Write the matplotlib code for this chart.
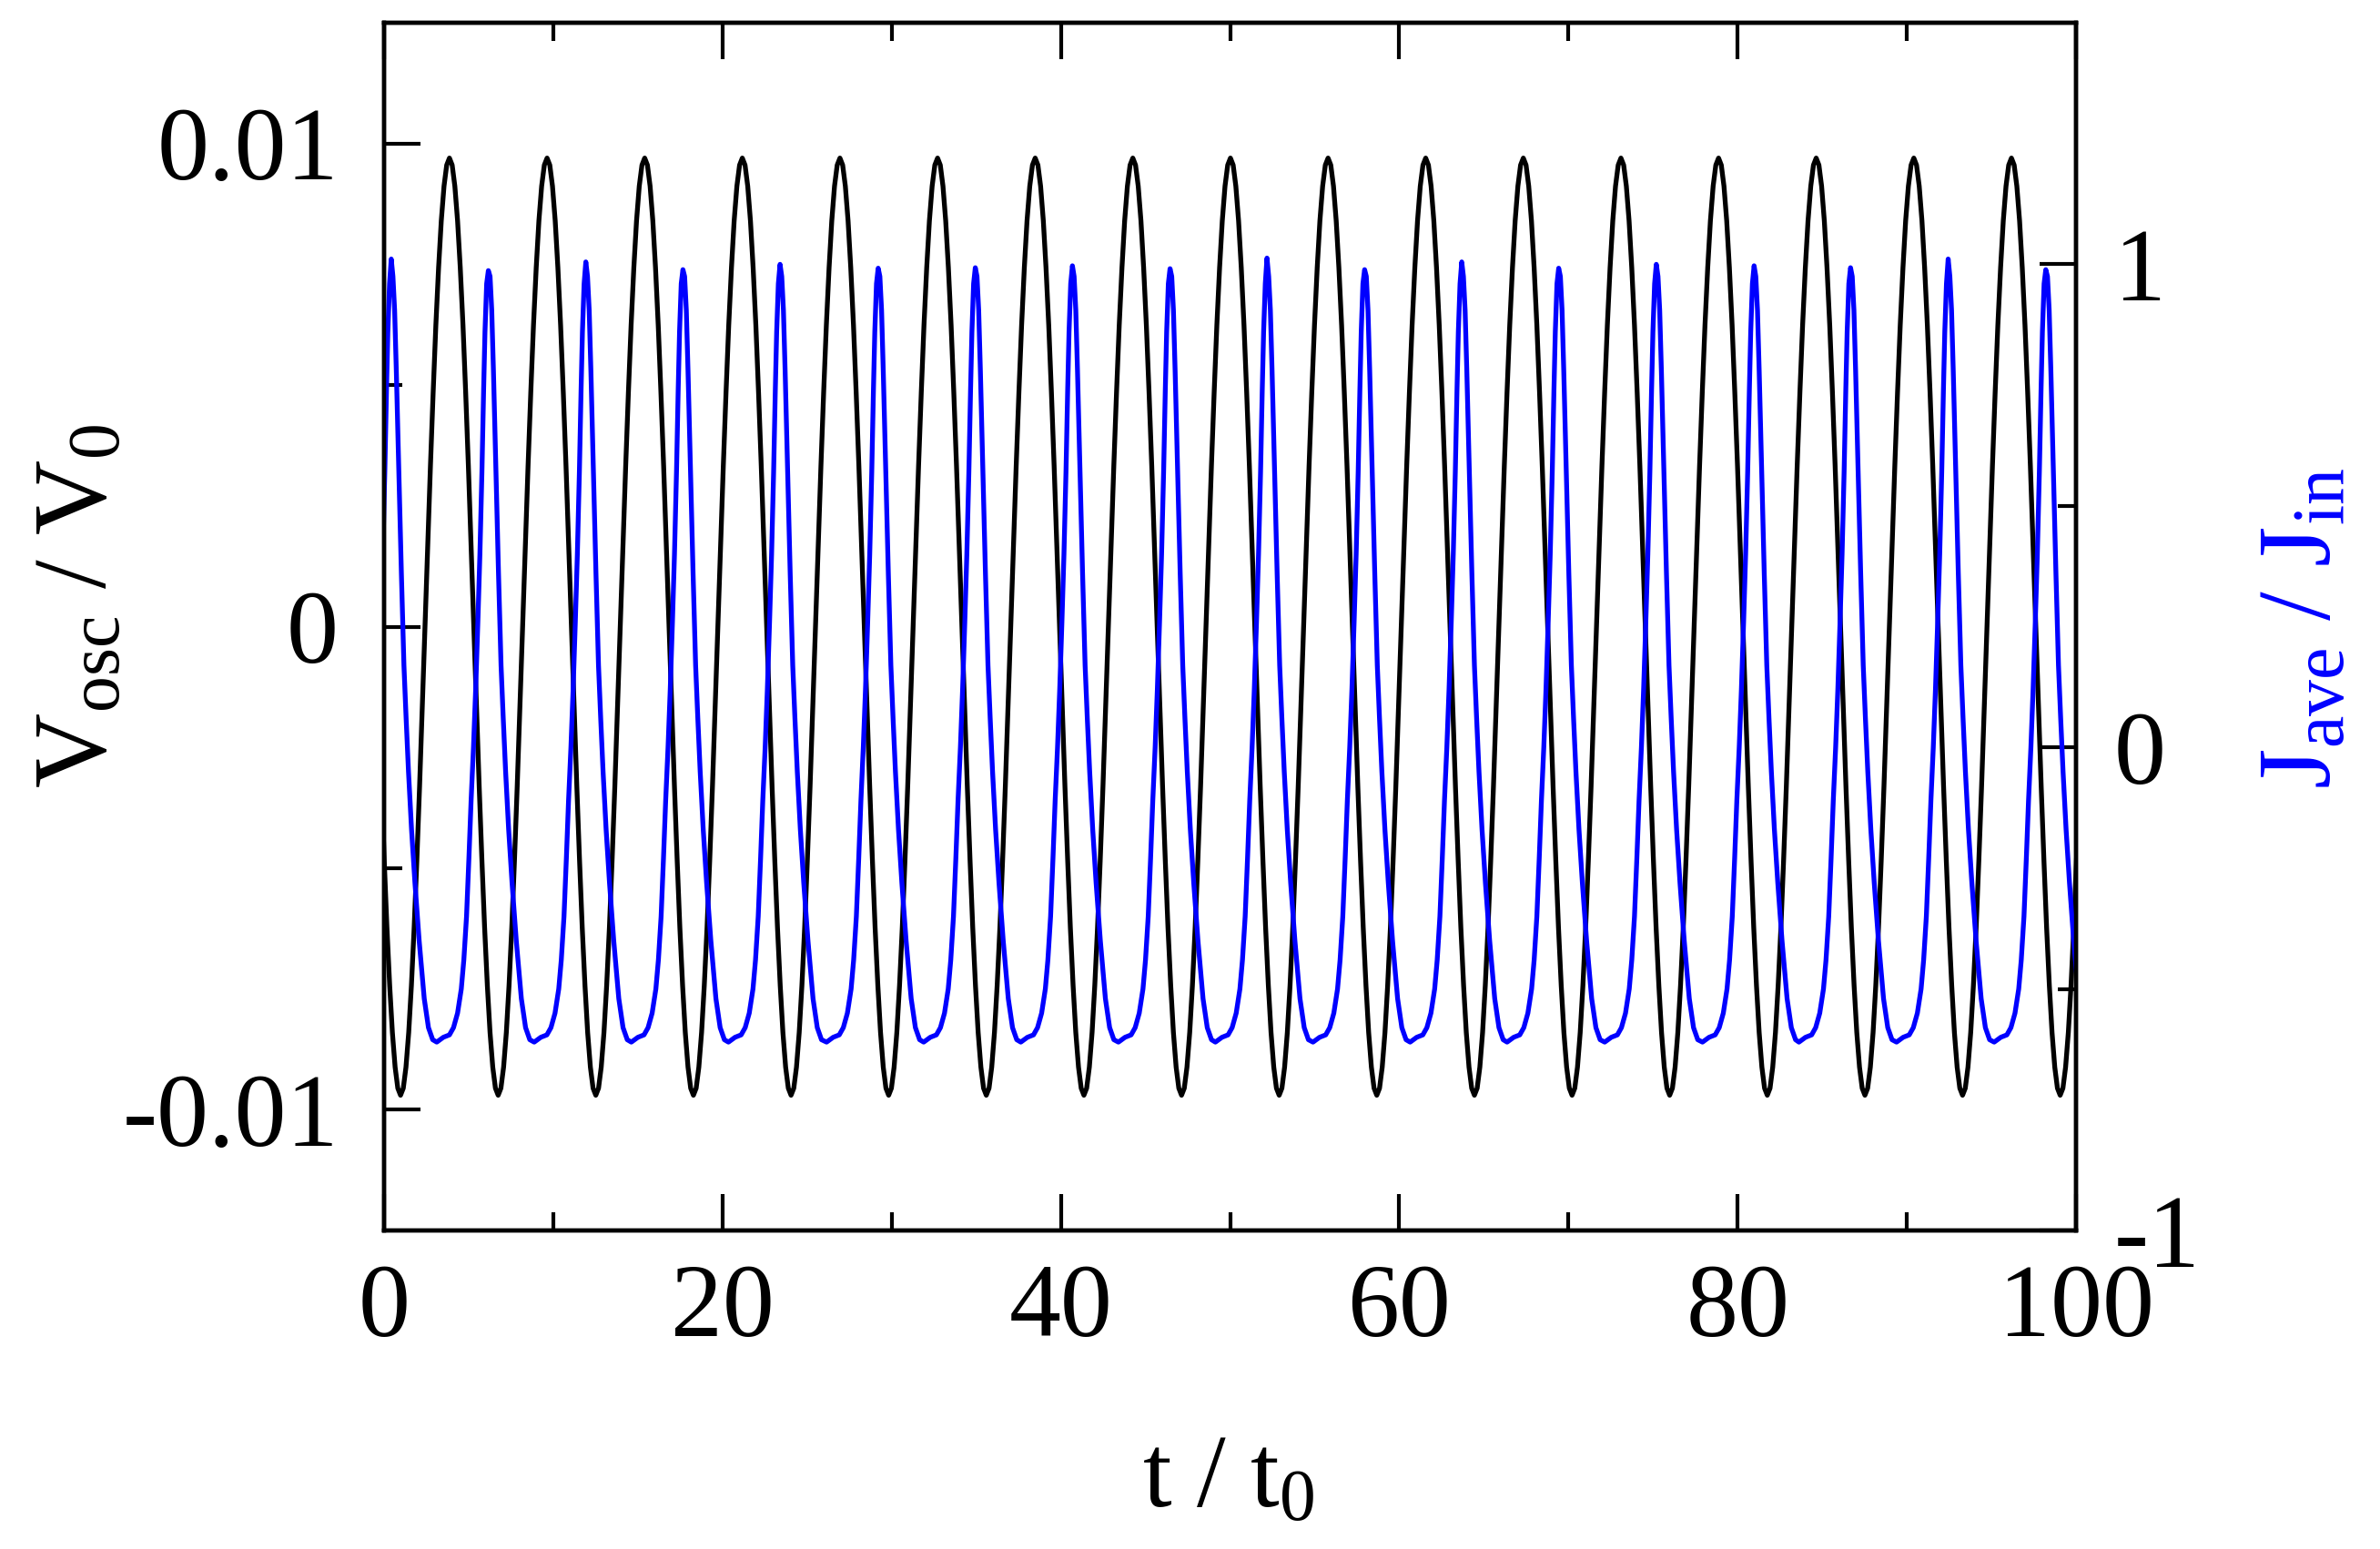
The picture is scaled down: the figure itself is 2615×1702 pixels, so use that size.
import matplotlib
matplotlib.use('Agg')
import matplotlib.pyplot as plt
from matplotlib.ticker import FixedLocator

plt.rcParams['font.family'] = ['Liberation Serif', 'DejaVu Serif']
plt.rcParams['mathtext.fontset'] = 'custom'
plt.rcParams['mathtext.rm'] = 'Liberation Serif'
plt.rcParams['mathtext.it'] = 'Liberation Serif:italic'
plt.rcParams['axes.unicode_minus'] = False

# --- black trace (V_osc / V_0): times of successive extrema and their values
black_ext_t = [-1.92, 0.97, 3.86, 6.74, 9.63, 12.51, 15.40, 18.28, 21.17, 24.05,
               26.94, 29.82, 32.71, 35.59, 38.48, 41.36, 44.25, 47.13, 50.02, 52.90,
               55.79, 58.67, 61.56, 64.44, 67.33, 70.21, 73.10, 75.98, 78.87, 81.75,
               84.64, 87.52, 90.41, 93.29, 96.18, 99.06, 101.95]
black_ext_v = [0.0097, -0.0097, 0.0097, -0.0097, 0.0097, -0.0097, 0.0097, -0.0097,
               0.0097, -0.0097, 0.0097, -0.0097, 0.0097, -0.0097, 0.0097, -0.0097,
               0.0097, -0.0097, 0.0097, -0.0097, 0.0097, -0.0097, 0.0097, -0.0097,
               0.0097, -0.0097, 0.0097, -0.0097, 0.0097, -0.0097, 0.0097, -0.0097,
               0.0097, -0.0097, 0.0097, -0.0097, 0.0097]
# shape of one half swing (peak -> trough), as fraction of the swing time
black_half_frac = [0.0, 0.056, 0.111, 0.167, 0.222, 0.278, 0.333, 0.389, 0.444, 0.5,
                   0.556, 0.611, 0.667, 0.722, 0.778, 0.833, 0.889, 0.944, 1.0]
black_half_shape = [1.0, 0.985, 0.940, 0.866, 0.766, 0.643, 0.500, 0.342, 0.174, 0.0,
                    -0.174, -0.342, -0.500, -0.643, -0.766, -0.866, -0.940, -0.985, -1.0]

# --- blue trace (J_ave / J_in): pulse peaks
blue_peak_t = [0.42, 6.16, 11.92, 17.66, 23.40, 29.20, 34.94, 40.68, 46.45,
               52.18, 57.95, 63.69, 69.42, 75.19, 80.97, 86.67, 92.44, 98.21]
blue_peak_v = [1.011, 0.987, 1.005, 0.989, 1.000, 0.992, 0.993, 0.997, 0.991,
               1.013, 0.989, 1.005, 0.992, 1.000, 0.997, 0.993, 1.011, 0.989]
# pulse shape: rise before each peak, fall after it (time offsets from the peak)
blue_rise_dt = [-3.05, -2.66, -2.30, -2.06, -1.82, -1.60, -1.45, -1.29, -1.15,
                -1.02, -0.88, -0.75, -0.62, -0.50, -0.38, -0.28, -0.20, -0.10]
blue_rise_v = [-0.61, -0.60, -0.595, -0.58, -0.55, -0.50, -0.44, -0.35, -0.23,
               -0.11, 0.0, 0.12, 0.26, 0.40, 0.57, 0.74, 0.86, 0.96]
blue_fall_dt = [0.10, 0.20, 0.30, 0.45, 0.60, 0.75, 0.88, 1.02, 1.20, 1.40,
                1.65, 1.95, 2.20, 2.45]
blue_fall_v = [0.975, 0.905, 0.78, 0.57, 0.36, 0.17, 0.06, -0.05, -0.17, -0.28,
               -0.40, -0.52, -0.58, -0.605]

# --- assemble the traces
kx, ky = [], []
for i in range(len(black_ext_t) - 1):
    t0, t1 = black_ext_t[i], black_ext_t[i + 1]
    v0, v1 = black_ext_v[i], black_ext_v[i + 1]
    mid, half = (v0 + v1) / 2, (v0 - v1) / 2
    for j, (f, s) in enumerate(zip(black_half_frac, black_half_shape)):
        if i > 0 and j == 0:
            continue
        kx.append(t0 + f * (t1 - t0))
        ky.append(mid + half * s)

bx, by = [], []
for tp, vp in zip(blue_peak_t, blue_peak_v):
    bx += [tp + d for d in blue_rise_dt]
    by += blue_rise_v
    bx.append(tp)
    by.append(vp)
    bx += [tp + d for d in blue_fall_dt]
    by += blue_fall_v

# --- figure
fig = plt.figure(figsize=(13.075, 8.51), dpi=200)
ax = fig.add_axes([0.1614, 0.2056, 0.7109, 0.7797])
ax.plot(kx, ky, color='black', lw=1.9)
ax.set_xlim(0, 100)
ax.set_ylim(-0.0125, 0.0125)

ax2 = ax.twinx()
ax2.plot(bx, by, color=(0, 0, 1), lw=1.9)
ax2.set_ylim(-1, 1.5)

ax.xaxis.set_major_locator(FixedLocator([0, 20, 40, 60, 80, 100]))
ax.xaxis.set_minor_locator(FixedLocator([10, 30, 50, 70, 90]))
ax.set_xticklabels(['0', '20', '40', '60', '80', '100'])
ax.yaxis.set_major_locator(FixedLocator([-0.01, 0, 0.01]))
ax.yaxis.set_minor_locator(FixedLocator([-0.005, 0.005]))
ax.set_yticklabels(['-0.01', '0', '0.01'])
ax2.yaxis.set_major_locator(FixedLocator([-1, 0, 1]))
ax2.yaxis.set_minor_locator(FixedLocator([-0.5, 0.5]))
ax2.set_yticklabels(['-1', '0', '1'])

for a in (ax, ax2):
    for sp in a.spines.values():
        sp.set_linewidth(1.6)

ax.tick_params(which='both', direction='in', width=1.5, top=True, right=False,
               labelsize=41)
ax.tick_params(which='major', length=14.4)
ax.tick_params(which='minor', length=7.2)
ax.tick_params(axis='x', pad=13)
ax.tick_params(axis='y', pad=18)
ax2.tick_params(which='both', direction='in', width=1.5, left=False, right=True,
                labelsize=41, pad=15)
ax2.tick_params(which='major', length=14.4)
ax2.tick_params(which='minor', length=7.2)

fig.text(0.034, 0.6087, r'$\mathregular{V_{osc}\ /\ V_0}$', rotation=90,
         ha='center', va='center', fontsize=41)
fig.text(0.9687, 0.5946, r'$\mathregular{J_{ave}\ /\ J_{in}}$', rotation=90,
         ha='center', va='center', fontsize=41, color=(0, 0, 1))
fig.text(0.5163, 0.0435, r'$\mathregular{t\ /\ t_0}$', ha='center', va='center',
         fontsize=41)

fig.savefig('out.png', dpi=200)
